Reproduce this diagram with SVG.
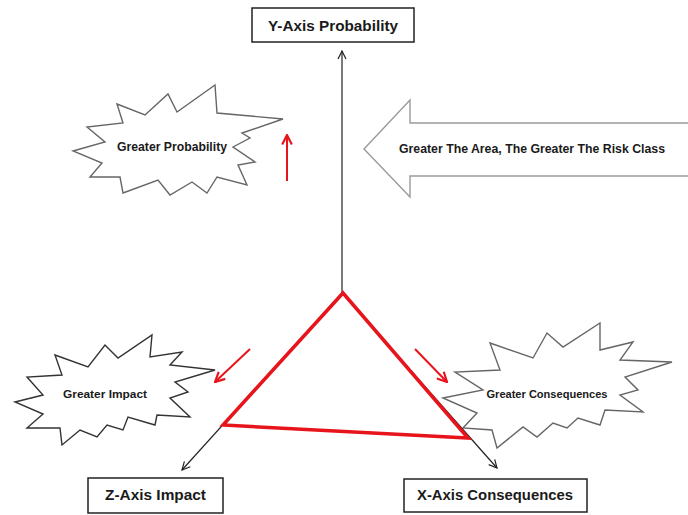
<svg xmlns="http://www.w3.org/2000/svg" width="688" height="515" viewBox="0 0 688 515">
<defs>
<style>
.box{fill:#fff;stroke:#222;stroke-width:1.5}
.lbl{font-family:"Liberation Sans","DejaVu Sans",sans-serif;font-weight:bold;fill:#1a1a1a}
.burst{fill:#fff;stroke-width:1.4;stroke-linejoin:miter}
.axis{fill:none;stroke:#222;stroke-width:1.2}
.red{fill:none;stroke:#e8141c;stroke-width:2}
</style>
<marker id="ah" viewBox="0 0 10 10" refX="9" refY="5" markerWidth="10" markerHeight="10" markerUnits="userSpaceOnUse" orient="auto">
<path d="M1,1 L9,5 L1,9" fill="none" stroke="#222" stroke-width="1.2"/>
</marker>
<marker id="rah" viewBox="0 0 10 10" refX="9" refY="5" markerWidth="12" markerHeight="12" markerUnits="userSpaceOnUse" orient="auto">
<path d="M1,1 L9,5 L1,9" fill="none" stroke="#e8141c" stroke-width="1.8"/>
</marker>
</defs>
<rect width="688" height="515" fill="#fff"/>

<g id="greater-probability">
<polygon class="burst" stroke="#666" points="73,151 105,142 87,127 123,123 117,104 145,115 168,94 177,112 215,85 217,113 283,119 242,133 250,138 233,147 255,162 238,165 247,185 217,177 207,193 192,182 170,195 158,180 123,193 120,177 90,177 102,163"/>
<text class="lbl" x="172" y="151" font-size="12" text-anchor="middle" textLength="110" lengthAdjust="spacingAndGlyphs">Greater Probability</text>
</g>

<g id="greater-impact">
<polygon class="burst" stroke="#333" points="15,402 43,395 27,377 62,375 55,355 88,367 105,345 118,358 152,335 150,357 182,352 170,365 215,370 175,382 188,392 170,398 190,417 157,415 155,425 128,417 123,430 107,425 97,437 80,430 62,445 60,428 27,428 43,414"/>
<text class="lbl" x="105" y="398" font-size="10.5" text-anchor="middle" textLength="84" lengthAdjust="spacingAndGlyphs">Greater Impact</text>
</g>

<g id="greater-consequences">
<polygon class="burst" stroke="#666" points="443,398 483,390 455,372 500,370 490,343 533,358 547,333 563,347 600,323 600,350 633,342 620,360 672,362 625,377 638,390 620,395 643,412 605,410 600,425 578,418 567,428 553,423 537,437 523,427 497,448 492,430 463,428 477,413"/>
<text class="lbl" x="547" y="398" font-size="10.5" text-anchor="middle" textLength="121" lengthAdjust="spacingAndGlyphs">Greater Consequences</text>
</g>

<g id="risk-class-arrow">
<polygon fill="#fff" stroke="#9a9a9a" stroke-width="1.4" points="364,149 410,100 410,123 690,123 690,176 410,176 410,197"/>
<text class="lbl" x="532" y="153" font-size="12.5" text-anchor="middle" textLength="266" lengthAdjust="spacingAndGlyphs">Greater The Area, The Greater The Risk Class</text>
</g>

<g id="y-axis">
<rect class="box" x="252" y="8" width="162" height="34"/>
<text class="lbl" x="333" y="31" font-size="15" text-anchor="middle" textLength="130" lengthAdjust="spacingAndGlyphs">Y-Axis Probability</text>
</g>

<g id="z-axis">
<rect class="box" x="88" y="478" width="135" height="35"/>
<text class="lbl" x="155.5" y="500" font-size="15" text-anchor="middle" textLength="101" lengthAdjust="spacingAndGlyphs">Z-Axis Impact</text>
</g>

<g id="x-axis">
<rect class="box" x="404" y="479" width="183" height="33"/>
<text class="lbl" x="495" y="500" font-size="15" text-anchor="middle" textLength="156" lengthAdjust="spacingAndGlyphs">X-Axis Consequences</text>
</g>

<g id="connectors">
<line class="axis" x1="342" y1="293" x2="342" y2="51" marker-end="url(#ah)"/>
<line class="axis" x1="342" y1="293" x2="182" y2="470" marker-end="url(#ah)"/>
<line class="axis" x1="342" y1="293" x2="497" y2="468" marker-end="url(#ah)"/>
<line class="red" x1="287" y1="181" x2="287" y2="135" marker-end="url(#rah)"/>
<line class="red" x1="250" y1="349" x2="215" y2="382" marker-end="url(#rah)"/>
<line class="red" x1="415" y1="349" x2="447" y2="382" marker-end="url(#rah)"/>
</g>

<g id="risk-triangle">
<polygon fill="none" stroke="#e8141c" stroke-width="3.5" stroke-linejoin="miter" points="343,293 223,425 468,438"/>
</g>
</svg>
